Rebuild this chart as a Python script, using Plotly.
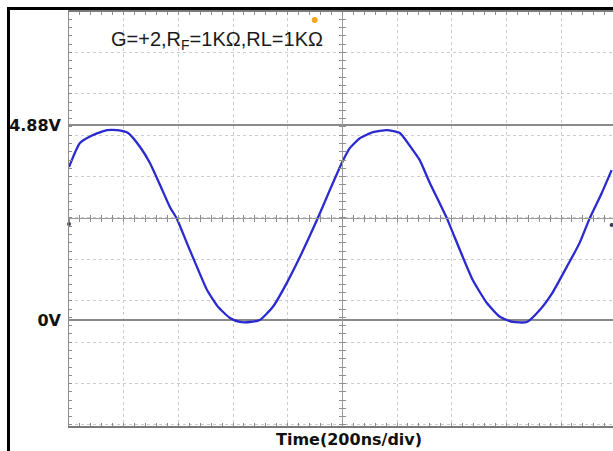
import plotly.graph_objects as go

# ---- data (time in ns, voltage in V) ----
time_ns = [0, 40, 88, 139, 176, 216, 260, 296, 333, 369, 395, 431, 468, 505, 545, 589,
           625, 662, 698, 746, 797, 845, 907, 954, 998, 1027, 1064, 1112, 1163, 1210,
           1258, 1283, 1320, 1382, 1430, 1477, 1528, 1576, 1623, 1675, 1722, 1770,
           1821, 1868, 1905, 1949, 1985]
volts = [3.83, 4.43, 4.63, 4.75, 4.75, 4.68, 4.33, 3.93, 3.38, 2.83, 2.53, 1.93, 1.33,
         0.75, 0.33, 0.05, -0.05, -0.05, 0.00, 0.33, 0.93, 1.58, 2.50, 3.25, 3.93, 4.30,
         4.55, 4.70, 4.75, 4.68, 4.25, 4.00, 3.43, 2.55, 1.75, 1.00, 0.43, 0.08,
         -0.05, -0.05, 0.25, 0.70, 1.33, 1.93, 2.55, 3.18, 3.75]

level_vals = [0, 4.88]
level_text = ["0V", "4.88V"]

trig_t = [899]
trig_v = [7.51]
ref_t = [0, 1985]
ref_v = [2.40, 2.38]

title_text = "G=+2,R<sub>F</sub>=1KΩ,RL=1KΩ"
xlabel_text = "Time(200ns/div)"

# ---- screen geometry (body margin removed in the page) ----
OFF = 0
W, H = 613 - OFF, 451 - OFF
L, T = 69 - OFF, 12 - OFF
B = H - (426 - OFF)
R = 0
xmin, xmax = 0, 1990
ymin, ymax = -2.653, 7.708
div_t = 200
div_v = 1.0361
v_center = 2.553
t_center = 1000

pw = W - L - R
ph = H - T - B
xc_paper = (t_center - xmin) / (xmax - xmin)
yc_paper = (v_center - ymin) / (ymax - ymin)

def px_to_paper_x(px):
    return (px - OFF - L) / pw

def py_to_paper_y(py):
    return (H - B - (py - OFF)) / ph

GRID = "#cccccc"
LINE = "#8c8c8c"

fig = go.Figure()
fig.add_trace(go.Scatter(x=time_ns, y=volts, mode="lines",
                         line=dict(color="#2a2ad0", width=2.3, shape="spline", smoothing=0.5),
                         hoverinfo="skip", showlegend=False))
fig.add_trace(go.Scatter(x=trig_t, y=trig_v, mode="markers",
                         marker=dict(color="#f5a623", size=6, symbol="circle"),
                         cliponaxis=False, hoverinfo="skip", showlegend=False))
fig.add_trace(go.Scatter(x=ref_t, y=ref_v, mode="markers",
                         marker=dict(color="#3a3a60", size=4, symbol="circle"),
                         cliponaxis=False, hoverinfo="skip", showlegend=False))
# empty traces so the helper axes (frame ticks, centre crosshair) get drawn
for xa, ya in [("x2", "y"), ("x3", "y"), ("x", "y2"), ("x", "y3"), ("x", "y4")]:
    fig.add_trace(go.Scatter(x=[], y=[], xaxis=xa, yaxis=ya, showlegend=False, hoverinfo="skip"))

tick_common = dict(ticklen=3, tickwidth=1, tickcolor=LINE)

fig.update_layout(
    width=W, height=H,
    margin=dict(l=L, r=R, t=T, b=B, pad=0),
    paper_bgcolor="white", plot_bgcolor="white",
    showlegend=False,
    hovermode=False,
    xaxis=dict(range=[xmin, xmax], tick0=0, dtick=div_t, showgrid=True, griddash="dot",
               gridcolor=GRID, gridwidth=1, zeroline=False, showticklabels=False,
               ticks="inside", showline=True, linecolor="#7a7a7a", linewidth=2,
               mirror="allticks", **tick_common,
               minor=dict(tick0=0, dtick=div_t / 5, ticks="inside", ticklen=3,
                          tickcolor=LINE, showgrid=False)),
    yaxis=dict(range=[ymin, ymax], tickmode="array", tickvals=level_vals, ticktext=level_text,
               showgrid=True, gridcolor="#8a8a8a", gridwidth=1.5, zeroline=False,
               ticks="", showline=False, ticklabelstandoff=7,
               tickfont=dict(family="DejaVu Sans", size=16, color="#111", weight="bold"),
               minor=dict(tickmode="linear", tick0=v_center, dtick=div_v, showgrid=True,
                          griddash="dot", gridcolor=GRID, gridwidth=1, ticks="")),
    yaxis2=dict(range=[ymin, ymax], overlaying="y", anchor="x", side="left",
                tick0=v_center, dtick=div_v / 5, ticks="inside", showticklabels=False,
                showgrid=False, zeroline=False, showline=True, linecolor=LINE, linewidth=1.5,
                **tick_common),
    xaxis2=dict(range=[xmin, xmax], overlaying="x", anchor="free", position=yc_paper,
                tick0=0, dtick=div_t / 5, ticks="outside", showticklabels=False,
                showgrid=False, zeroline=False, showline=True, linecolor="#9a9a9a",
                linewidth=1, **tick_common),
    xaxis3=dict(range=[xmin, xmax], overlaying="x", anchor="free", position=yc_paper,
                tick0=0, dtick=div_t / 5, ticks="inside", showticklabels=False,
                showgrid=False, zeroline=False, showline=False, **tick_common),
    yaxis3=dict(range=[ymin, ymax], overlaying="y", anchor="free", position=xc_paper,
                tick0=v_center, dtick=div_v / 5, ticks="outside", showticklabels=False,
                showgrid=False, zeroline=False, showline=True, linecolor="#9a9a9a",
                linewidth=1, **tick_common),
    yaxis4=dict(range=[ymin, ymax], overlaying="y", anchor="free", position=xc_paper,
                tick0=v_center, dtick=div_v / 5, ticks="inside", showticklabels=False,
                showgrid=False, zeroline=False, showline=False, **tick_common),
)

# outer black frame (left and top edges of the screenshot border)
fig.add_shape(type="line", xref="paper", yref="paper",
              x0=px_to_paper_x(8.5), x1=px_to_paper_x(8.5),
              y0=py_to_paper_y(7), y1=py_to_paper_y(460),
              line=dict(color="black", width=3))
fig.add_shape(type="line", xref="paper", yref="paper",
              x0=px_to_paper_x(7), x1=px_to_paper_x(620),
              y0=py_to_paper_y(8.5), y1=py_to_paper_y(8.5),
              line=dict(color="black", width=3))

fig.add_annotation(text=title_text, xref="paper", yref="paper",
                   x=px_to_paper_x(217), y=py_to_paper_y(41),
                   xanchor="center", yanchor="middle", showarrow=False,
                   font=dict(family="Liberation Sans, Arial", size=20, color="#1a1a1a"))
fig.add_annotation(text=xlabel_text, xref="paper", yref="paper",
                   x=px_to_paper_x(349), y=py_to_paper_y(440),
                   xanchor="center", yanchor="middle", showarrow=False,
                   font=dict(family="DejaVu Sans", size=16, color="#111", weight="bold"))

fig.write_html(
    "out.html",
    config={"displayModeBar": False, "staticPlot": True},
    post_script="document.body.style.margin='0';"
                "document.documentElement.style.overflow='hidden';"
                "document.body.style.overflow='hidden';",
)
